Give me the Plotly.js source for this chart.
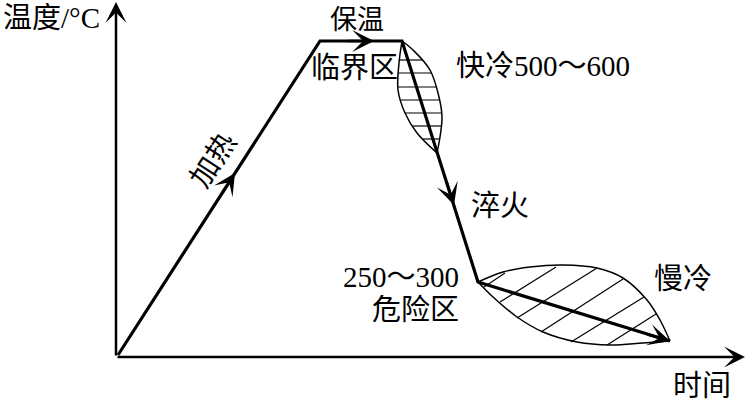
<!DOCTYPE html>
<html>
<head>
<meta charset="utf-8">
<script src="https://cdn.plot.ly/plotly-3.0.1.min.js"></script>
<style>html,body{margin:0;padding:0;background:#fff;}#chart{width:746px;height:403px;}</style>
</head>
<body>
<div id="chart"></div>
<script>
// Schematic heat-treatment curve: time (x) vs temperature (y), arbitrary units
// Main process path: heating -> holding -> quenching -> slow cooling
var pathTime = [2, 204, 286, 362, 554];
var pathTemp = [2, 316, 316, 75, 16];

// Critical zone (upper leaf), left and right edges
var critLeftTime  = [286, 283, 282, 289, 301, 321];
var critLeftTemp  = [316, 294, 267, 244, 224, 204];
var critRightTime = [286, 297, 314, 323, 326, 324, 321];
var critRightTemp = [316, 307, 287, 260, 240, 220, 204];
// horizontal hatch lines in critical zone
var critHatchTemp  = [297, 284, 270, 257, 244, 231, 218];
var critHatchLeft  = [283, 282, 282, 285, 289, 297, 307];
var critHatchRight = [306, 315, 321, 324, 326, 325, 324];

// Danger zone (lower leaf), upper and lower edges
var dangerTopTime = [362, 387, 414, 447, 481, 507, 531, 544, 554];
var dangerTopTemp = [75, 85, 90, 92, 89, 79, 57, 37, 16];
var dangerBotTime = [362, 377, 401, 427, 461, 494, 527, 554];
var dangerBotTemp = [75, 60, 40, 25, 15, 12, 14, 16];
// diagonal hatch lines in danger zone (start/end)
var dangerHatchX0 = [368, 384, 401, 425, 455, 491];
var dangerHatchY0 = [70, 55, 39, 25, 15, 12];
var dangerHatchX1 = [389, 440, 481, 507, 528, 540];
var dangerHatchY1 = [84, 90, 89, 78, 60, 43];

// Axis ends
var xAxisEnd = 629;
var yAxisEnd = 355;

// Direction arrows along the path: [tailX, tailY, headX, headY]
var arrowTailX = [105, 230, 330, 530];
var arrowTailY = [162, 316, 177, 23];
var arrowHeadX = [119, 258, 338, 554];
var arrowHeadY = [184, 316, 152, 16];

// Labels
var labelText  = ['温度/°C', '保温', '临界区', '快冷500～600', '加热', '淬火', '250～300', '危险区', '慢冷', '时间'];
var labelX     = [-115, 241, 238, 427, 97, 384, 285, 299, 567, 586];
var labelY     = [339, 337, 289, 291, 197, 151, 80, 47, 78, -29];
var labelSize  = [29, 27, 29, 29, 29, 29, 29, 29, 29, 29];
var labelAngle = [0, 0, 0, 0, -57, 0, 0, 0, 0, 0];
var labelAnchor= ['left','center','center','center','center','center','center','center','center','center'];

var FONT = 'Liberation Serif, Times New Roman, Noto Sans CJK SC, serif';

function hatch(x0, y0, x1, y1) {
  var xs = [], ys = [];
  for (var i = 0; i < x0.length; i++) {
    xs.push(x0[i], x1[i], null);
    ys.push(y0[i], y1[i], null);
  }
  return {x: xs, y: ys};
}
var critH = hatch(critHatchLeft, critHatchTemp, critHatchRight, critHatchTemp);
var dangH = hatch(dangerHatchX0, dangerHatchY0, dangerHatchX1, dangerHatchY1);

var traces = [
  {x: critLeftTime.concat([null], critRightTime), y: critLeftTemp.concat([null], critRightTemp),
   mode: 'lines', line: {color: '#000', width: 1.5, shape: 'spline'}, hoverinfo: 'skip'},
  {x: dangerTopTime.concat([null], dangerBotTime), y: dangerTopTemp.concat([null], dangerBotTemp),
   mode: 'lines', line: {color: '#000', width: 1.5, shape: 'spline'}, hoverinfo: 'skip'},
  {x: critH.x, y: critH.y, mode: 'lines', line: {color: '#000', width: 1.2}, hoverinfo: 'skip'},
  {x: dangH.x, y: dangH.y, mode: 'lines', line: {color: '#000', width: 1.2}, hoverinfo: 'skip'},
  {x: pathTime, y: pathTemp, mode: 'lines', line: {color: '#000', width: 3.2}, hoverinfo: 'skip'}
];

var annotations = [];
// axes with arrows
annotations.push({x: xAxisEnd, y: 0, ax: 0, ay: 0, xref: 'x', yref: 'y', axref: 'x', ayref: 'y',
  text: '', showarrow: true, arrowhead: 3, arrowwidth: 2.5, arrowsize: 1.4, arrowcolor: '#000', standoff: 0});
annotations.push({x: 0, y: yAxisEnd, ax: 0, ay: 0, xref: 'x', yref: 'y', axref: 'x', ayref: 'y',
  text: '', showarrow: true, arrowhead: 3, arrowwidth: 2.5, arrowsize: 1.4, arrowcolor: '#000', standoff: 0});
for (var i = 0; i < arrowHeadX.length; i++) {
  annotations.push({x: arrowHeadX[i], y: arrowHeadY[i], ax: arrowTailX[i], ay: arrowTailY[i],
    xref: 'x', yref: 'y', axref: 'x', ayref: 'y', text: '', showarrow: true,
    arrowhead: 3, arrowwidth: 2.6, arrowsize: 1.4, arrowcolor: '#000', standoff: 0});
}
for (var j = 0; j < labelText.length; j++) {
  annotations.push({x: labelX[j], y: labelY[j], xref: 'x', yref: 'y', text: labelText[j],
    showarrow: false, xanchor: labelAnchor[j], yanchor: 'middle', textangle: labelAngle[j],
    font: {family: FONT, size: labelSize[j], color: '#000'}});
}

var layout = {
  width: 746, height: 403,
  margin: {l: 0, r: 0, t: 0, b: 0},
  paper_bgcolor: '#fff', plot_bgcolor: '#fff',
  showlegend: false,
  xaxis: {range: [-116, 630], visible: false, fixedrange: true},
  yaxis: {range: [-46, 357], visible: false, fixedrange: true},
  annotations: annotations
};

Plotly.newPlot('chart', traces, layout, {staticPlot: true, displayModeBar: false});
</script>
</body>
</html>
